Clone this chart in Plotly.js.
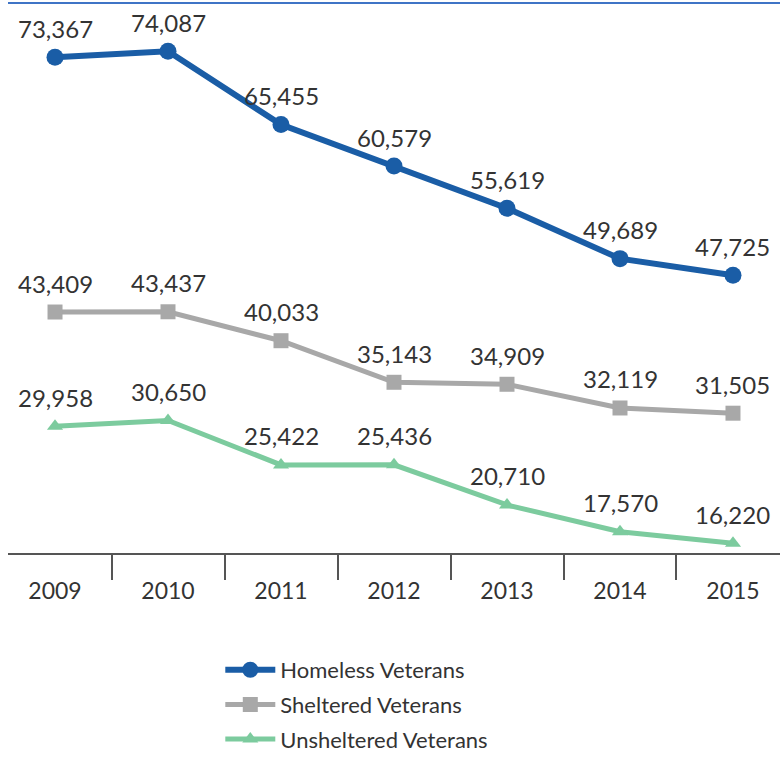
<!DOCTYPE html>
<html>
<head>
<meta charset="utf-8">
<script src="https://cdn.plot.ly/plotly-3.0.1.min.js"></script>
<style>html,body{margin:0;padding:0;background:#fff;}#chart{width:780px;height:757px;}</style>
</head>
<body>
<div id="chart"></div>
<script>
const years = ["2009", "2010", "2011", "2012", "2013", "2014", "2015"];
const homeless = [73367, 74087, 65455, 60579, 55619, 49689, 47725];
const sheltered = [43409, 43437, 40033, 35143, 34909, 32119, 31505];
const unsheltered = [29958, 30650, 25422, 25436, 20710, 17570, 16220];
const seriesNames = ["Homeless Veterans", "Sheltered Veterans", "Unsheltered Veterans"];

const fmt = v => v.toLocaleString("en-US");
const FONT = "Lato, 'Open Sans', sans-serif";

const styles = [
  {color: "#1a5da6", lw: 6, sym: "circle", ms: 17},
  {color: "#a8a8a8", lw: 5, sym: "square", ms: 15},
  {color: "#7ccb9e", lw: 5, sym: "triangle-up", ms: 14}
];
const allSeries = [homeless, sheltered, unsheltered];

const traces = allSeries.map((vals, i) => ({
  type: "scatter",
  mode: "lines+markers",
  name: seriesNames[i],
  legendgroup: "g" + i,
  x: years,
  y: vals,
  line: {color: styles[i].color, width: styles[i].lw},
  marker: {color: styles[i].color, symbol: styles[i].sym, size: styles[i].ms},
  hoverinfo: "x+y"
}));

const annotations = [];
allSeries.forEach(vals => {
  vals.forEach((v, j) => {
    annotations.push({
      x: j, y: v, xref: "x", yref: "y",
      text: fmt(v), showarrow: false,
      yanchor: "middle", yshift: 29,
      font: {family: FONT, size: 24, color: "#333333"}
    });
  });
});

const layout = {
  width: 780, height: 757,
  margin: {l: 8, r: 0, t: 3, b: 204, autoexpand: false},
  paper_bgcolor: "#ffffff",
  plot_bgcolor: "#ffffff",
  showlegend: true,
  legend: {
    x: 0.275, xanchor: "left", y: -0.1745, yanchor: "top",
    orientation: "v",
    font: {family: FONT, size: 22, color: "#333333"},
    itemwidth: 50,
    tracegroupgap: 3,
    bgcolor: "rgba(0,0,0,0)"
  },
  xaxis: {
    type: "category",
    range: [-0.416, 6.416],
    automargin: false,
    showgrid: false,
    zeroline: false,
    showline: true, linecolor: "#555555", linewidth: 2,
    ticks: "outside", tickson: "boundaries", ticklen: 25, tickwidth: 2, tickcolor: "#555555",
    ticklabelstandoff: 16,
    tickfont: {family: FONT, size: 23, color: "#333333"},
    fixedrange: true
  },
  yaxis: {
    range: [15060, 79760],
    automargin: false,
    showgrid: false,
    zeroline: false,
    showline: false,
    showticklabels: false,
    ticks: "",
    fixedrange: true
  },
  shapes: [{
    type: "line", xref: "paper", yref: "paper",
    x0: 0, x1: 1, y0: 1, y1: 1,
    line: {color: "#3f74c6", width: 2}
  }],
  annotations: annotations
};

Plotly.newPlot("chart", traces, layout, {displayModeBar: false, staticPlot: true});
</script>
</body>
</html>
